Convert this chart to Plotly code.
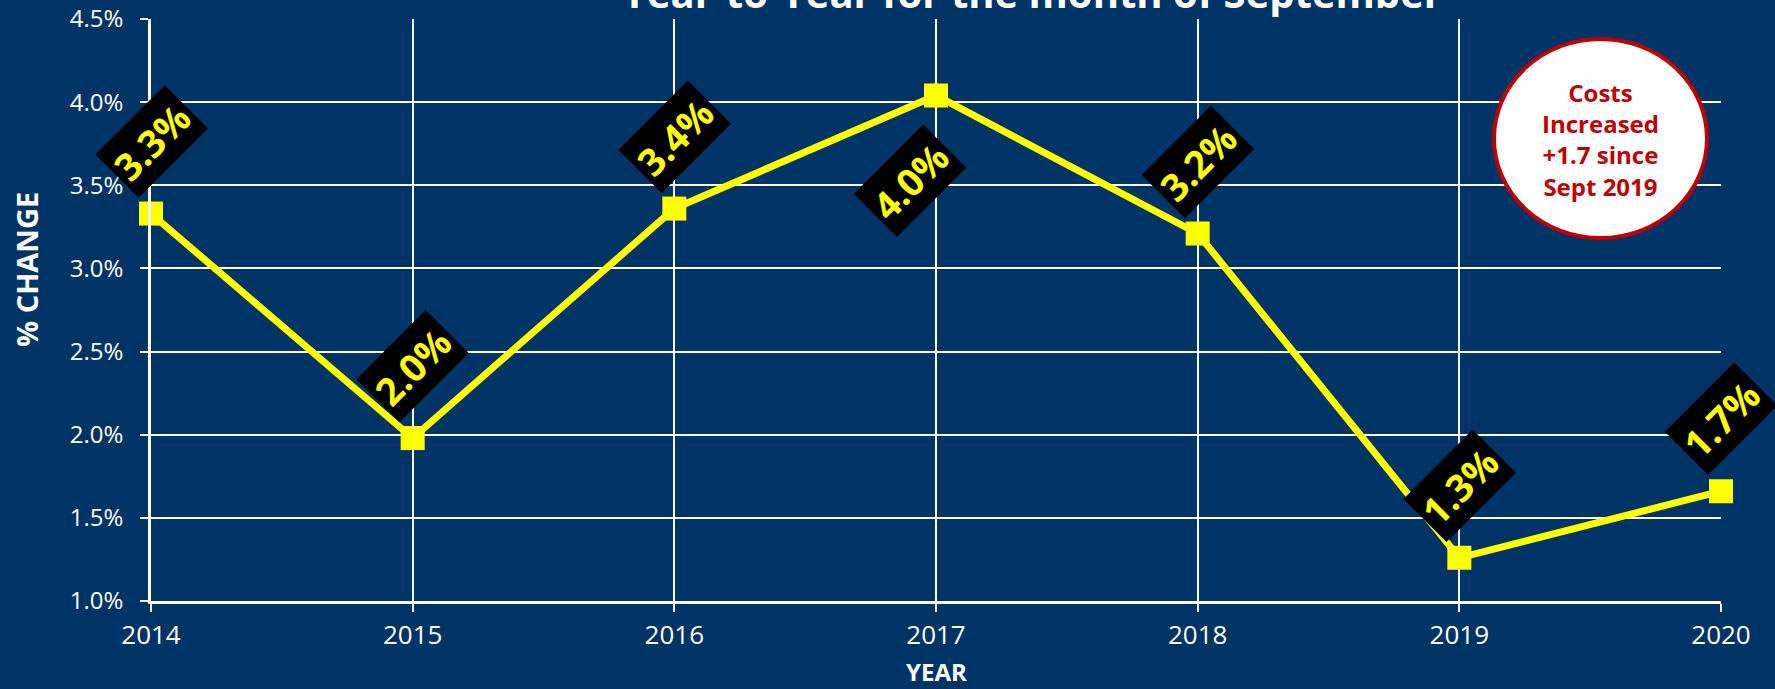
import plotly.graph_objects as go

years = [2014, 2015, 2016, 2017, 2018, 2019, 2020]
pct_change = [3.33, 1.98, 3.36, 4.04, 3.21, 1.26, 1.66]
point_labels = ["3.3%", "2.0%", "3.4%", "4.0%", "3.2%", "1.3%", "1.7%"]
y_ticks = [1.0, 1.5, 2.0, 2.5, 3.0, 3.5, 4.0, 4.5]
title_text = "Year-to-Year for the month of September"
callout_text = "Costs<br>Increased<br>+1.7 since<br>Sept 2019"

BG = "#003366"
YELLOW = "#FFFF00"
RED = "#C00000"
FONT = "Open Sans"

L, R, T, B = 151, 54, 19, 88
W, H = 1775, 689
PW, PH = W - L - R, H - T - B


def px_x(x):
    return (x - L) / PW


def px_y(y):
    return (H - B - y) / PH


fig = go.Figure()
fig.add_trace(go.Scatter(
    x=years, y=pct_change, mode="lines+markers",
    line=dict(color=YELLOW, width=7),
    marker=dict(symbol="square", size=24, color=YELLOW),
    hoverinfo="skip", showlegend=False, cliponaxis=False,
))

# data labels (rotated boxes)
for xv, yv, lab in zip(years, pct_change, point_labels):
    if lab == "4.0%":
        xs, ys = -26, -86
    else:
        xs, ys = 0, 72
    fig.add_annotation(
        x=xv, y=yv, xref="x", yref="y", text="<b>" + lab + "</b>",
        showarrow=False, textangle=-45, xshift=xs, yshift=ys,
        xanchor="center", yanchor="middle",
        bgcolor="black", borderpad=4,
        font=dict(family=FONT, size=38, color=YELLOW),
    )

# callout circle
fig.add_shape(type="circle", xref="paper", yref="paper",
              x0=px_x(1494), x1=px_x(1707), y0=px_y(238), y1=px_y(39),
              fillcolor="white", line=dict(color=RED, width=4), layer="above")
fig.add_annotation(x=px_x(1600), y=px_y(139), xref="paper", yref="paper",
                   xanchor="center", yanchor="middle",
                   text="<b>" + callout_text + "</b>", showarrow=False,
                   font=dict(family=FONT, size=24, color=RED), align="center")

# title (partly cut off at the top, as in the source)
fig.add_annotation(x=px_x(1032), y=px_y(-7), xref="paper", yref="paper",
                   text="<b>" + title_text + "</b>", showarrow=False,
                   yanchor="middle", xanchor="center",
                   font=dict(family=FONT, size=40, color="white"))

# y axis title
fig.add_annotation(x=px_x(26), y=px_y(270), xref="paper", yref="paper",
                   text="<b>% CHANGE</b>", showarrow=False, textangle=-90,
                   xanchor="center", yanchor="middle",
                   font=dict(family=FONT, size=29, color="white"))
# x axis title
fig.add_annotation(x=0.5, y=px_y(671), xref="paper", yref="paper",
                   text="<b>YEAR</b>", showarrow=False, borderpad=0,
                   xanchor="center", yanchor="middle",
                   font=dict(family=FONT, size=24, color="white"))

fig.update_layout(
    width=W, height=H,
    margin=dict(l=L, r=R, t=T, b=B, autoexpand=False),
    paper_bgcolor=BG, plot_bgcolor=BG,
    font=dict(family=FONT, color="white"),
    xaxis=dict(range=[2014, 2020], tickvals=years, ticktext=[str(y) for y in years],
               showgrid=True, gridcolor="white", gridwidth=1.5,
               showline=True, linecolor="white", linewidth=2.5,
               ticks="outside", ticklen=8, tickcolor="white", tickwidth=2,
               tickfont=dict(family=FONT, size=26, color="white"),
               ticklabelstandoff=1, zeroline=False, fixedrange=True,
               automargin=False),
    yaxis=dict(range=[1.0, 4.5], tickvals=y_ticks,
               ticktext=[f"{v:.1f}%" for v in y_ticks],
               showgrid=True, gridcolor="white", gridwidth=1.5,
               showline=True, linecolor="white", linewidth=2.5,
               ticks="outside", ticklen=8, tickcolor="white", tickwidth=2,
               tickfont=dict(family=FONT, size=24, color="white"),
               ticklabelstandoff=12, zeroline=False, fixedrange=True,
               automargin=False),
)

fig.write_html("out.html", config={"displayModeBar": False},
               post_script="document.body.style.margin='0px';")
